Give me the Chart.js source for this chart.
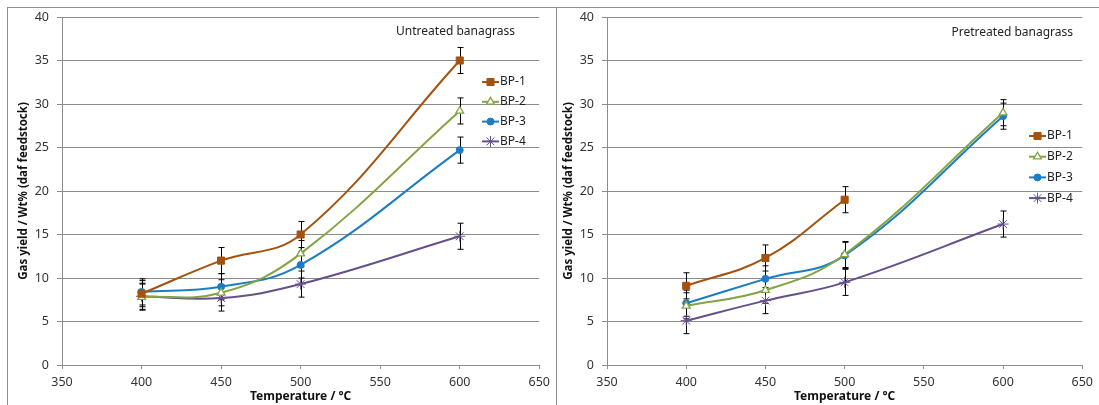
<!DOCTYPE html>
<html>
<head>
<meta charset="utf-8">
<script src="https://cdn.jsdelivr.net/npm/chart.js@4/dist/chart.umd.min.js"></script>
<style>
body { margin: 0; background: #fff; width: 1099px; height: 405px; overflow: hidden; position: relative; }
.frame { position: absolute; border: 1px solid #8e8e8e; }
#leftFrame { left: 7px; top: 7px; width: 548px; height: 420px; }
#rightFrame { left: 556px; top: 7px; width: 560px; height: 420px; border-left: none; }
.box { position: absolute; top: 0; height: 405px; }
#leftBox { left: 0; width: 556px; }
#rightBox { left: 556px; width: 543px; }
</style>
</head>
<body>
<div class="frame" id="leftFrame"></div>
<div class="frame" id="rightFrame"></div>
<div class="box" id="leftBox"><canvas id="untreatedChart"></canvas></div>
<div class="box" id="rightBox"><canvas id="pretreatedChart"></canvas></div>
<script>
const temps = [400, 450, 500, 600];
const seriesNames = ["BP-1", "BP-2", "BP-3", "BP-4"];
const xTicks = [350, 400, 450, 500, 550, 600, 650];

// untreated banagrass
const untreatedBP1 = [8.2, 12.0, 15.0, 35.0];
const untreatedBP2 = [7.8, 8.3, 12.8, 29.2];
const untreatedBP3 = [8.4, 9.0, 11.5, 24.7];
const untreatedBP4 = [7.9, 7.7, 9.3, 14.8];
const untreatedErr1 = [1.5, 1.5, 1.5, 1.5];
const untreatedErr2 = [1.5, 1.5, 1.5, 1.5];
const untreatedErr3 = [1.5, 1.5, 1.5, 1.5];
const untreatedErr4 = [1.5, 1.5, 1.5, 1.5];

// pretreated banagrass
const pretreatedBP1 = [9.1, 12.3, 19.0, null];
const pretreatedBP2 = [6.8, 8.6, 12.7, 29.0];
const pretreatedBP3 = [7.1, 9.9, 12.6, 28.6];
const pretreatedBP4 = [5.1, 7.4, 9.5, 16.2];
const pretreatedErr1 = [1.5, 1.5, 1.5, null];
const pretreatedErr2 = [1.5, 1.5, 1.5, 1.5];
const pretreatedErr3 = [1.5, 1.5, 1.5, 1.5];
const pretreatedErr4 = [1.5, 1.5, 1.5, 1.5];

const colors = ["#A5520E", "#84A443", "#1C7CC4", "#66508A"];
const markers = [
    { pointStyle: "rect", radius: 5, bg: "#A5520E" },
    { pointStyle: "triangle", radius: 4.5, bg: "#ffffff" },
    { pointStyle: "circle", radius: 3.5, bg: "#1C7CC4" },
    { pointStyle: "star", radius: 5.5, bg: "#66508A" }
];

const FONT = "'Noto Sans', sans-serif";

function toPoints(values, errs) {
    const pts = [];
    temps.forEach((t, i) => {
        if (values[i] !== null) pts.push({ x: t, y: values[i], err: errs[i] });
    });
    return pts;
}

const decorPlugin = {
    id: "decor",
    beforeDatasetsDraw(chart) {
        // error bars, drawn under the markers
        const ctx = chart.ctx;
        const xs = chart.scales.x, ys = chart.scales.y;
        ctx.save();
        ctx.strokeStyle = "#000";
        ctx.lineWidth = 1;
        chart.data.datasets.forEach(ds => {
            ds.data.forEach(p => {
                if (!p.err) return;
                const x = Math.round(xs.getPixelForValue(p.x)) + 0.5;
                const y1 = ys.getPixelForValue(p.y + p.err);
                const y2 = ys.getPixelForValue(p.y - p.err);
                ctx.beginPath();
                ctx.moveTo(x, y1); ctx.lineTo(x, y2);
                ctx.moveTo(x - 3, y1); ctx.lineTo(x + 3, y1);
                ctx.moveTo(x - 3, y2); ctx.lineTo(x + 3, y2);
                ctx.stroke();
            });
        });
        ctx.restore();
    },
    afterDraw(chart, args, opts) {
        const ctx = chart.ctx;
        ctx.save();
        ctx.fillStyle = "#222";
        ctx.font = "12px " + FONT;
        ctx.textBaseline = "middle";
        ctx.textAlign = "right";
        ctx.fillText(opts.title, opts.titleX, opts.titleY);

        ctx.textAlign = "left";
        chart.data.datasets.forEach((ds, i) => {
            const y = opts.legendY + i * opts.legendDy;
            const x = opts.legendX;
            ctx.strokeStyle = ds.borderColor;
            ctx.lineWidth = 2;
            ctx.beginPath();
            ctx.moveTo(x, y); ctx.lineTo(x + 17, y);
            ctx.stroke();
            ctx.fillStyle = ds.pointBackgroundColor;
            ctx.strokeStyle = ds.borderColor;
            ctx.lineWidth = ds.pointBorderWidth;
            Chart.helpers.drawPoint(ctx, {
                pointStyle: ds.pointStyle, radius: ds.pointRadius,
                borderWidth: ds.pointBorderWidth, rotation: 0
            }, x + 8.5, y);
            ctx.fillStyle = "#222";
            ctx.fillText(ds.label, x + 18, y);
        });
        ctx.restore();
    }
};

function makeChart(id, seriesData, seriesErr, deco, area) {
    const datasets = seriesData.map((vals, i) => ({
        label: seriesNames[i],
        data: toPoints(vals, seriesErr[i]),
        borderColor: colors[i],
        backgroundColor: colors[i],
        borderWidth: 2,
        tension: 0.4,
        pointStyle: markers[i].pointStyle,
        pointRadius: markers[i].radius,
        pointBackgroundColor: markers[i].bg,
        pointBorderColor: colors[i],
        pointBorderWidth: i === 1 ? 1.3 : 1
    }));
    return new Chart(document.getElementById(id), {
        type: "line",
        data: { datasets: datasets },
        plugins: [decorPlugin],
        options: {
            responsive: true,
            maintainAspectRatio: false,
            animation: false,
            layout: { padding: { left: 0, right: area.right, top: 17, bottom: 0 } },
            plugins: {
                legend: { display: false },
                tooltip: { enabled: false },
                decor: deco
            },
            scales: {
                x: {
                    type: "linear",
                    min: 350, max: 650,
                    afterBuildTicks: s => { s.ticks = xTicks.map(v => ({ value: v })); },
                    afterFit: s => { s.height = 40; },
                    border: { color: "#8c8c8c", width: 1 },
                    grid: { drawOnChartArea: false, drawTicks: true, tickLength: 4, color: "#8c8c8c" },
                    ticks: { color: "#333", font: { family: FONT, size: 12.5 }, padding: 6, maxRotation: 0 },
                    title: { display: true, text: "Temperature / °C", color: "#111",
                        font: { family: FONT, size: 12, weight: "bold" }, padding: { top: 0, bottom: 1 } }
                },
                y: {
                    min: 0, max: 40,
                    ticks: { stepSize: 5, color: "#333", font: { family: FONT, size: 12.5 }, padding: 8 },
                    afterFit: s => { s.width = area.left; },
                    border: { color: "#8c8c8c", width: 1 },
                    grid: { color: "#8c8c8c", tickLength: 5 },
                    title: { display: true, text: "Gas yield / Wt% (daf feedstock)", color: "#111",
                        font: { family: FONT, size: 11.5, weight: "bold" }, padding: { top: area.titlePad, bottom: 0 } }
                }
            }
        }
    });
}

makeChart("untreatedChart",
    [untreatedBP1, untreatedBP2, untreatedBP3, untreatedBP4],
    [untreatedErr1, untreatedErr2, untreatedErr3, untreatedErr4],
    { title: "Untreated banagrass", titleX: 515, titleY: 32, legendX: 482, legendY: 82, legendDy: 19.8 },
    { left: 62, right: 16, titlePad: 17 });

makeChart("pretreatedChart",
    [pretreatedBP1, pretreatedBP2, pretreatedBP3, pretreatedBP4],
    [pretreatedErr1, pretreatedErr2, pretreatedErr3, pretreatedErr4],
    { title: "Pretreated banagrass", titleX: 517, titleY: 33, legendX: 473, legendY: 136, legendDy: 20.7 },
    { left: 51, right: 9, titlePad: 6 });
</script>
</body>
</html>
